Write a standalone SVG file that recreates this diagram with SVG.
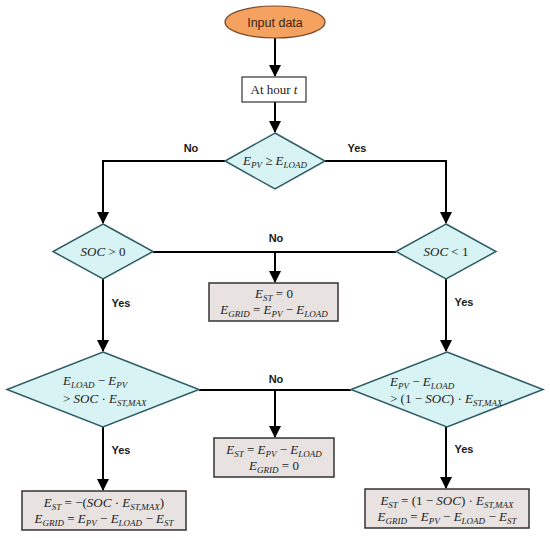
<svg xmlns="http://www.w3.org/2000/svg" width="550" height="538" viewBox="0 0 550 538">
<defs>
<marker id="ah" markerUnits="userSpaceOnUse" markerWidth="12" markerHeight="12" viewBox="0 0 12 12" refX="11" refY="6" orient="auto">
<path d="M0,0 L12,6 L0,12 Z" fill="#000"/>
</marker>
<style>
.c{fill:none;stroke:#000;stroke-width:2}
.dm{fill:#D8F3F3;stroke:#2E5C66;stroke-width:1.5}
.bx{fill:#E8E3E1;stroke:#333;stroke-width:1.5}
.m{font-family:"Liberation Serif","DejaVu Serif",serif;font-style:italic;font-size:13px;fill:#222}
.s{font-size:9px}
.u{font-style:normal}
.lb{font-family:"Liberation Sans",Arial,sans-serif;font-weight:bold;font-size:11px;fill:#1a1a1a;text-anchor:middle}
</style>
</defs>
<rect width="550" height="538" fill="#fff"/>
<g id="connectors">
<path class="c" d="M275,38 V76" marker-end="url(#ah)"/>
<path class="c" d="M275,102 V132" marker-end="url(#ah)"/>
<path class="c" d="M225,161 H103 V223" marker-end="url(#ah)"/>
<path class="c" d="M325,161 H446 V223" marker-end="url(#ah)"/>
<path class="c" d="M153,252 H396"/>
<path class="c" d="M275,252 V282" marker-end="url(#ah)"/>
<path class="c" d="M103,278 V351" marker-end="url(#ah)"/>
<path class="c" d="M446,278 V351" marker-end="url(#ah)"/>
<path class="c" d="M199,390 H351"/>
<path class="c" d="M275,390 V437" marker-end="url(#ah)"/>
<path class="c" d="M103,426 V490" marker-end="url(#ah)"/>
<path class="c" d="M446,426 V488" marker-end="url(#ah)"/>
<text class="lb" x="191" y="152">No</text>
<text class="lb" x="357" y="152">Yes</text>
<text class="lb" x="276" y="242">No</text>
<text class="lb" x="121" y="307">Yes</text>
<text class="lb" x="464" y="306">Yes</text>
<text class="lb" x="276" y="383">No</text>
<text class="lb" x="121" y="454">Yes</text>
<text class="lb" x="464" y="453">Yes</text>
</g>
<g id="start">
<ellipse cx="275" cy="22" rx="50" ry="16" fill="#F5A260" stroke="#7A4A28" stroke-width="1.2"/>
<text x="275" y="26.5" text-anchor="middle" font-family="Liberation Sans,Arial,sans-serif" font-size="12.5" fill="#3A2414">Input data</text>
</g>
<g id="hour">
<rect x="242" y="77" width="64" height="25" fill="#fff" stroke="#333" stroke-width="1.2"/>
<text x="274" y="94" text-anchor="middle" class="m"><tspan class="u">At hour </tspan>t</text>
</g>
<g id="d_pv_load">
<polygon class="dm" points="275,133 325,161 275,189 225,161"/>
<text x="275" y="165" text-anchor="middle" class="m">E<tspan class="s" dy="2.5">PV</tspan><tspan class="u" dy="-2.5"> ≥ </tspan>E<tspan class="s" dy="2.5">LOAD</tspan></text>
</g>
<g id="d_soc_gt0">
<polygon class="dm" points="103,224 153,251.5 103,279 53,251.5"/>
<text x="103" y="256" text-anchor="middle" class="m">SOC<tspan class="u"> &gt; 0</tspan></text>
</g>
<g id="d_soc_lt1">
<polygon class="dm" points="446,224 496,251.5 446,279 396,251.5"/>
<text x="446" y="256" text-anchor="middle" class="m">SOC<tspan class="u"> &lt; 1</tspan></text>
</g>
<g id="b_zero">
<rect class="bx" x="209" y="283" width="129" height="38"/>
<text x="274" y="298" text-anchor="middle" class="m">E<tspan class="s" dy="2.5">ST</tspan><tspan class="u" dy="-2.5"> = 0</tspan></text>
<text x="274" y="314" text-anchor="middle" class="m">E<tspan class="s" dy="2.5">GRID</tspan><tspan class="u" dy="-2.5"> = </tspan>E<tspan class="s" dy="2.5">PV</tspan><tspan class="u" dy="-2.5"> − </tspan>E<tspan class="s" dy="2.5">LOAD</tspan></text>
</g>
<g id="d_discharge">
<polygon class="dm" points="103,352 199,389.5 103,427 7,389.5"/>
<text x="63" y="385" class="m">E<tspan class="s" dy="2.5">LOAD</tspan><tspan class="u" dy="-2.5"> − </tspan>E<tspan class="s" dy="2.5">PV</tspan></text>
<text x="63" y="403" class="m"><tspan class="u">&gt; </tspan>SOC<tspan class="u"> · </tspan>E<tspan class="s" dy="2.5">ST,MAX</tspan></text>
</g>
<g id="d_charge">
<polygon class="dm" points="447,352 543,389.5 447,427 351,389.5"/>
<text x="390" y="386" class="m">E<tspan class="s" dy="2.5">PV</tspan><tspan class="u" dy="-2.5"> − </tspan>E<tspan class="s" dy="2.5">LOAD</tspan></text>
<text x="390" y="403" class="m"><tspan class="u">&gt; (1 − </tspan>SOC<tspan class="u">) · </tspan>E<tspan class="s" dy="2.5">ST,MAX</tspan></text>
</g>
<g id="b_store">
<rect class="bx" x="214" y="438" width="120" height="39"/>
<text x="274" y="454" text-anchor="middle" class="m">E<tspan class="s" dy="2.5">ST</tspan><tspan class="u" dy="-2.5"> = </tspan>E<tspan class="s" dy="2.5">PV</tspan><tspan class="u" dy="-2.5"> − </tspan>E<tspan class="s" dy="2.5">LOAD</tspan></text>
<text x="274" y="470" text-anchor="middle" class="m">E<tspan class="s" dy="2.5">GRID</tspan><tspan class="u" dy="-2.5"> = 0</tspan></text>
</g>
<g id="b_discharge">
<rect class="bx" x="22" y="491" width="164" height="39"/>
<text x="104" y="507" text-anchor="middle" class="m">E<tspan class="s" dy="2.5">ST</tspan><tspan class="u" dy="-2.5"> = −(</tspan>SOC<tspan class="u"> · </tspan>E<tspan class="s" dy="2.5">ST,MAX</tspan><tspan class="u" dy="-2.5">)</tspan></text>
<text x="104" y="523" text-anchor="middle" class="m">E<tspan class="s" dy="2.5">GRID</tspan><tspan class="u" dy="-2.5"> = </tspan>E<tspan class="s" dy="2.5">PV</tspan><tspan class="u" dy="-2.5"> − </tspan>E<tspan class="s" dy="2.5">LOAD</tspan><tspan class="u" dy="-2.5"> − </tspan>E<tspan class="s" dy="2.5">ST</tspan></text>
</g>
<g id="b_charge">
<rect class="bx" x="365" y="489" width="164" height="39"/>
<text x="447" y="505" text-anchor="middle" class="m">E<tspan class="s" dy="2.5">ST</tspan><tspan class="u" dy="-2.5"> = (1 − </tspan>SOC<tspan class="u">) · </tspan>E<tspan class="s" dy="2.5">ST,MAX</tspan></text>
<text x="447" y="521" text-anchor="middle" class="m">E<tspan class="s" dy="2.5">GRID</tspan><tspan class="u" dy="-2.5"> = </tspan>E<tspan class="s" dy="2.5">PV</tspan><tspan class="u" dy="-2.5"> − </tspan>E<tspan class="s" dy="2.5">LOAD</tspan><tspan class="u" dy="-2.5"> − </tspan>E<tspan class="s" dy="2.5">ST</tspan></text>
</g>
</svg>
